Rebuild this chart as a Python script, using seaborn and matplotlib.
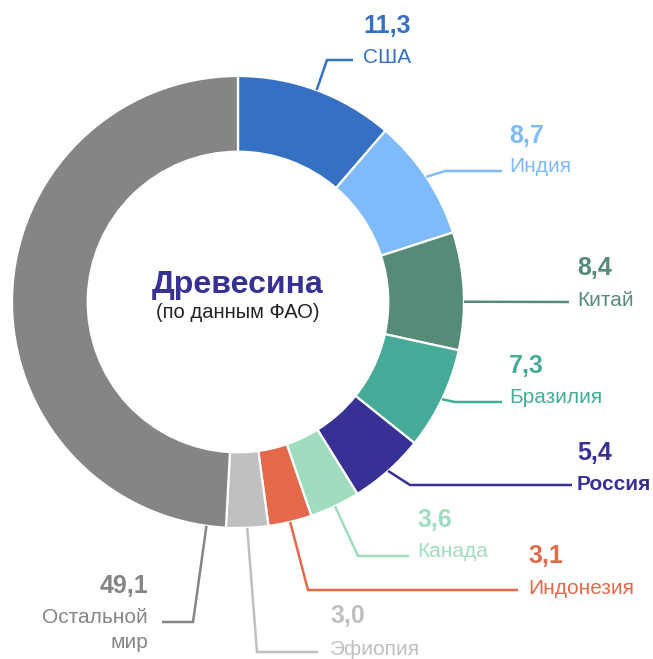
import matplotlib
matplotlib.use("Agg")
import matplotlib.pyplot as plt
import seaborn as sns
import numpy as np

# ---- data ----
countries = ["США", "Индия", "Китай", "Бразилия", "Россия", "Канада",
             "Индонезия", "Эфиопия", "Остальной\nмир"]
values = [11.3, 8.7, 8.4, 7.3, 5.4, 3.6, 3.1, 3.0, 49.1]
colors = ["#3570C3", "#7FBAFA", "#568B78", "#45AA98", "#373195",
          "#A0DDBE", "#E4694A", "#C0C0C0", "#858585"]
title = "Древесина"
subtitle = "(по данным ФАО)"

sns.set_theme(style="white")
plt.rcParams["font.family"] = ["Liberation Sans", "DejaVu Sans"]

W, H = 653, 659
fig = plt.figure(figsize=(W / 100, H / 100), dpi=100)
ax = fig.add_axes([0, 0, 1, 1])


def Y(y):
    return H - y


cx, cy, R = 238, Y(302), 226
wedges, _ = ax.pie(values, colors=colors, startangle=90, counterclock=False,
                   radius=R, center=(cx, cy),
                   wedgeprops=dict(width=R * 0.335, edgecolor="white", linewidth=1.6))
ax.set_xlim(0, W)
ax.set_ylim(0, H)
ax.set_aspect("equal")
ax.axis("off")

# layout: (anchor fraction along wedge, elbow points in image px, text x,
#          value baseline, name baseline, ha, name weight)
layout = [
    (0.5, [(327, 60), (353, 60)], 363, 33, 63, "left", "normal"),
    (0.5, [(445, 171), (502, 171)], 509, 143, 172, "left", "normal"),
    (0.59, [(569, 302)], 577, 275, 306, "left", "normal"),
    (0.5, [(455, 402), (502, 402)], 509, 373, 403, "left", "normal"),
    (0.5, [(410, 485), (572, 485)], 577, 460, 490, "left", "bold"),
    (0.5, [(358, 556), (409, 556)], 417, 527, 557, "left", "normal"),
    (0.5, [(308, 590), (518, 590)], 528, 563, 594, "left", "normal"),
    (0.5, [(257, 652), (318, 652)], 330, 623, 655, "left", "normal"),
    (0.028, [(193, 622), (162, 622)], 148, 593, 623, "right", "normal"),
]

for w, val, name, col, (frac, pts, tx, vy, ny, ha, nw) in zip(wedges, values, countries, colors, layout):
    # clockwise pie: theta2 is the start edge, theta1 the end edge
    ang = np.deg2rad(w.theta2 - frac * (w.theta2 - w.theta1))
    sx = w.center[0] + w.r * np.cos(ang)
    sy = w.center[1] + w.r * np.sin(ang)
    xs = [sx] + [p[0] for p in pts]
    ys = [sy] + [Y(p[1]) for p in pts]
    ax.plot(xs, ys, color=col, lw=1.8, solid_capstyle="butt", solid_joinstyle="miter")
    ax.text(tx, Y(vy), f"{val:.1f}".replace(".", ","), color=col, fontsize=18,
            fontweight="bold", ha=ha, va="baseline")
    lines = name.split("\n")
    for i, ln in enumerate(lines):
        ax.text(tx, Y(ny + i * 25), ln, color=col, fontsize=15, fontweight=nw,
                ha=ha, va="baseline")

ax.text(cx, Y(293), title, color="#373195", fontsize=23, fontweight="bold",
        ha="center", va="baseline")
ax.text(cx, Y(318), subtitle, color="#222222", fontsize=14.5,
        ha="center", va="baseline")

fig.savefig("out.png", dpi=100, facecolor="white")
